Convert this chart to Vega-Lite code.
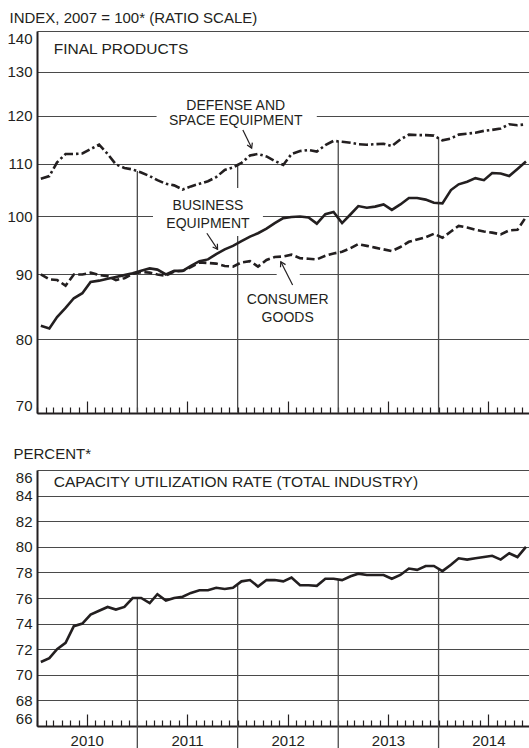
{
  "$schema": "https://vega.github.io/schema/vega-lite/v6.json",
  "padding": {"left": 0, "top": 10, "right": 0, "bottom": 0},
  "spacing": 32,
  "background": "white",
  "datasets": {
    "monthly": [
      {"date": "2010-01-15", "business": 82.0, "consumer": 90.0, "defense": 107.1, "util": 71.0},
      {"date": "2010-02-15", "business": 81.6, "consumer": 89.2, "defense": 107.6, "util": 71.3},
      {"date": "2010-03-15", "business": 83.3, "consumer": 89.1, "defense": 110.3, "util": 72.0},
      {"date": "2010-04-15", "business": 84.7, "consumer": 88.2, "defense": 112.0, "util": 72.5},
      {"date": "2010-05-15", "business": 86.2, "consumer": 90.0, "defense": 112.0, "util": 73.8},
      {"date": "2010-06-15", "business": 87.0, "consumer": 90.0, "defense": 112.1, "util": 74.0},
      {"date": "2010-07-15", "business": 88.8, "consumer": 90.3, "defense": 113.0, "util": 74.7},
      {"date": "2010-08-15", "business": 89.0, "consumer": 89.9, "defense": 113.9, "util": 75.0},
      {"date": "2010-09-15", "business": 89.3, "consumer": 89.7, "defense": 112.0, "util": 75.3},
      {"date": "2010-10-15", "business": 89.6, "consumer": 89.1, "defense": 109.9, "util": 75.1},
      {"date": "2010-11-15", "business": 89.9, "consumer": 89.4, "defense": 109.2, "util": 75.3},
      {"date": "2010-12-15", "business": 90.2, "consumer": 90.1, "defense": 108.9, "util": 76.0},
      {"date": "2011-01-15", "business": 90.6, "consumer": 90.4, "defense": 108.3, "util": 76.0},
      {"date": "2011-02-15", "business": 91.0, "consumer": 90.3, "defense": 107.6, "util": 75.6},
      {"date": "2011-03-15", "business": 90.8, "consumer": 90.0, "defense": 106.8, "util": 76.3},
      {"date": "2011-04-15", "business": 90.0, "consumer": 89.8, "defense": 106.1, "util": 75.8},
      {"date": "2011-05-15", "business": 90.6, "consumer": 90.5, "defense": 105.8, "util": 76.0},
      {"date": "2011-06-15", "business": 90.6, "consumer": 90.6, "defense": 105.0, "util": 76.1},
      {"date": "2011-07-15", "business": 91.4, "consumer": 91.2, "defense": 105.6, "util": 76.4},
      {"date": "2011-08-15", "business": 92.2, "consumer": 92.0, "defense": 106.1, "util": 76.6},
      {"date": "2011-09-15", "business": 92.5, "consumer": 91.9, "defense": 106.6, "util": 76.6},
      {"date": "2011-10-15", "business": 93.4, "consumer": 91.8, "defense": 107.4, "util": 76.8},
      {"date": "2011-11-15", "business": 94.2, "consumer": 91.4, "defense": 108.8, "util": 76.7},
      {"date": "2011-12-15", "business": 94.8, "consumer": 91.3, "defense": 109.3, "util": 76.8},
      {"date": "2012-01-15", "business": 95.6, "consumer": 92.0, "defense": 110.2, "util": 77.3},
      {"date": "2012-02-15", "business": 96.4, "consumer": 92.2, "defense": 111.7, "util": 77.4},
      {"date": "2012-03-15", "business": 97.0, "consumer": 91.3, "defense": 112.0, "util": 76.9},
      {"date": "2012-04-15", "business": 97.8, "consumer": 92.4, "defense": 111.5, "util": 77.4},
      {"date": "2012-05-15", "business": 98.8, "consumer": 92.9, "defense": 110.6, "util": 77.4},
      {"date": "2012-06-15", "business": 99.7, "consumer": 93.0, "defense": 109.8, "util": 77.3},
      {"date": "2012-07-15", "business": 99.9, "consumer": 93.3, "defense": 112.0, "util": 77.6},
      {"date": "2012-08-15", "business": 100.0, "consumer": 92.7, "defense": 112.6, "util": 77.0},
      {"date": "2012-09-15", "business": 99.8, "consumer": 92.6, "defense": 112.8, "util": 77.0},
      {"date": "2012-10-15", "business": 98.7, "consumer": 92.5, "defense": 112.5, "util": 76.95},
      {"date": "2012-11-15", "business": 100.4, "consumer": 93.1, "defense": 113.8, "util": 77.5},
      {"date": "2012-12-15", "business": 100.8, "consumer": 93.5, "defense": 114.7, "util": 77.5},
      {"date": "2013-01-15", "business": 98.8, "consumer": 93.8, "defense": 114.5, "util": 77.4},
      {"date": "2013-02-15", "business": 100.4, "consumer": 94.4, "defense": 114.3, "util": 77.7},
      {"date": "2013-03-15", "business": 101.9, "consumer": 95.1, "defense": 114.0, "util": 77.9},
      {"date": "2013-04-15", "business": 101.6, "consumer": 94.8, "defense": 113.9, "util": 77.8},
      {"date": "2013-05-15", "business": 101.8, "consumer": 94.5, "defense": 114.0, "util": 77.8},
      {"date": "2013-06-15", "business": 102.2, "consumer": 94.2, "defense": 114.1, "util": 77.8},
      {"date": "2013-07-15", "business": 101.2, "consumer": 93.9, "defense": 113.6, "util": 77.5},
      {"date": "2013-08-15", "business": 102.2, "consumer": 94.6, "defense": 115.0, "util": 77.8},
      {"date": "2013-09-15", "business": 103.4, "consumer": 95.5, "defense": 116.0, "util": 78.3},
      {"date": "2013-10-15", "business": 103.4, "consumer": 95.9, "defense": 115.9, "util": 78.2},
      {"date": "2013-11-15", "business": 103.1, "consumer": 96.3, "defense": 115.9, "util": 78.5},
      {"date": "2013-12-15", "business": 102.5, "consumer": 96.9, "defense": 115.8, "util": 78.5},
      {"date": "2014-01-15", "business": 102.4, "consumer": 96.2, "defense": 114.8, "util": 78.1},
      {"date": "2014-02-15", "business": 104.9, "consumer": 97.3, "defense": 115.2, "util": 78.6},
      {"date": "2014-03-15", "business": 106.0, "consumer": 98.3, "defense": 116.0, "util": 79.1},
      {"date": "2014-04-15", "business": 106.5, "consumer": 98.0, "defense": 116.2, "util": 79.0},
      {"date": "2014-05-15", "business": 107.2, "consumer": 97.6, "defense": 116.4, "util": 79.1},
      {"date": "2014-06-15", "business": 106.8, "consumer": 97.3, "defense": 116.8, "util": 79.2},
      {"date": "2014-07-15", "business": 108.2, "consumer": 97.1, "defense": 117.0, "util": 79.3},
      {"date": "2014-08-15", "business": 108.1, "consumer": 96.8, "defense": 117.3, "util": 79.0},
      {"date": "2014-09-15", "business": 107.6, "consumer": 97.5, "defense": 118.2, "util": 79.5},
      {"date": "2014-10-15", "business": 109.0, "consumer": 97.6, "defense": 118.0, "util": 79.2},
      {"date": "2014-11-15", "business": 110.5, "consumer": 99.9, "defense": 118.2, "util": 80.0}
    ],
    "years": [
      {"date": "2011-01-01", "top": 108.6, "utop": 76.0},
      {"date": "2012-01-01", "top": 109.8, "utop": 77.05},
      {"date": "2013-01-01", "top": 114.6, "utop": 77.4},
      {"date": "2014-01-01", "top": 115.3, "utop": 78.3}
    ],
    "one": [{}]
  },
  "vconcat": [
    {
      "width": 492,
      "height": 382,
      "layer": [
        {
          "data": {"name": "years"},
          "mark": {"type": "rule", "stroke": "#4a4a4a", "strokeWidth": 1.3},
          "encoding": {
            "x": {
              "field": "date", "type": "temporal",
              "scale": {"type": "utc", "nice": false, "domain": [{"year": 2010, "month": 1, "date": 1, "utc": true}, {"year": 2014, "month": 11, "date": 26, "utc": true}]},
              "axis": {
                "title": null, "grid": false, "labels": false,
                "domainColor": "#231f20", "domainWidth": 2,
                "tickCount": {"interval": "month", "step": 1},
                "tickColor": "#231f20", "tickWidth": 1.2,
                "tickSize": {"condition": {"test": "utcmonth(datum.value) == 6", "value": -12}, "value": -6}
              }
            },
            "y": {
              "field": "top", "type": "quantitative",
              "scale": {"type": "log", "domain": [70, 140], "nice": false},
              "axis": {
                "title": "INDEX, 2007 = 100* (RATIO SCALE)",
                "titleAngle": 0, "titleAlign": "left", "titleBaseline": "alphabetic",
                "titleX": -28, "titleY": -9, "titleFontSize": 15, "titleFontWeight": "normal", "titleColor": "#231f20",
                "values": [70, 80, 90, 100, 110, 120, 130, 140],
                "tickCount": 20,
                "labelExpr": "format(datum.value, 'd')",
                "labelFontSize": 15, "labelColor": "#231f20", "labelPadding": 5, "labelOverlap": false, "labelFlush": true,
                "ticks": false, "grid": true, "gridColor": "#4a4a4a", "gridWidth": 1.2,
                "domainColor": "#231f20", "domainWidth": 2,
                "minExtent": 37, "maxExtent": 37
              }
            },
            "y2": {"datum": 70}
          }
        },
        {
          "data": {"name": "one"},
          "mark": {"type": "rect", "fill": "white"},
          "encoding": {
            "x": {"datum": {"year": 2011, "month": 3, "date": 12, "utc": true}, "type": "temporal", "scale": {"type": "utc"}},
            "x2": {"datum": {"year": 2012, "month": 10, "date": 15, "utc": true}},
            "y": {"datum": 119, "type": "quantitative"},
            "y2": {"datum": 121}
          }
        },
        {
          "data": {"name": "one"},
          "mark": {"type": "rect", "fill": "white"},
          "encoding": {
            "x": {"datum": {"year": 2011, "month": 2, "date": 27, "utc": true}, "type": "temporal", "scale": {"type": "utc"}},
            "x2": {"datum": {"year": 2012, "month": 4, "date": 2, "utc": true}},
            "y": {"datum": 96.5, "type": "quantitative"},
            "y2": {"datum": 105.3}
          }
        },
        {
          "data": {"name": "one"},
          "mark": {"type": "rect", "fill": "white"},
          "encoding": {
            "x": {"datum": {"year": 2012, "month": 5, "date": 22, "utc": true}, "type": "temporal", "scale": {"type": "utc"}},
            "x2": {"datum": {"year": 2012, "month": 8, "date": 14, "utc": true}},
            "y": {"datum": 89.2, "type": "quantitative"},
            "y2": {"datum": 90.8}
          }
        },
        {
          "data": {"name": "monthly"},
          "mark": {"type": "line", "stroke": "#231f20", "strokeWidth": 2.6, "strokeDash": [8, 3.5]},
          "encoding": {
            "x": {"field": "date", "type": "temporal", "scale": {"type": "utc"}},
            "y": {"field": "consumer", "type": "quantitative"}
          }
        },
        {
          "data": {"name": "monthly"},
          "mark": {"type": "line", "stroke": "#231f20", "strokeWidth": 2.6, "strokeDash": [9, 3, 2.5, 3]},
          "encoding": {
            "x": {"field": "date", "type": "temporal", "scale": {"type": "utc"}},
            "y": {"field": "defense", "type": "quantitative"}
          }
        },
        {
          "data": {"name": "monthly"},
          "mark": {"type": "line", "stroke": "#231f20", "strokeWidth": 2.6},
          "encoding": {
            "x": {"field": "date", "type": "temporal", "scale": {"type": "utc"}},
            "y": {"field": "business", "type": "quantitative"}
          }
        },
        {
          "data": {"name": "one"},
          "mark": {"type": "rule", "stroke": "#231f20", "strokeWidth": 1.2},
          "encoding": {
            "x": {"datum": {"year": 2012, "month": 1, "date": 20, "utc": true}, "type": "temporal", "scale": {"type": "utc"}},
            "x2": {"datum": {"year": 2012, "month": 2, "date": 21, "utc": true}},
            "y": {"datum": 117.0, "type": "quantitative"},
            "y2": {"datum": 113.2}
          }
        },
        {
          "data": {"name": "one"},
          "mark": {"type": "point", "shape": "M -0.6 1 L 0 0 L 0.6 1", "filled": false, "stroke": "#231f20", "strokeWidth": 1.2, "size": 90, "angle": 156, "opacity": 1},
          "encoding": {
            "x": {"datum": {"year": 2012, "month": 2, "date": 21, "utc": true}, "type": "temporal", "scale": {"type": "utc"}},
            "y": {"datum": 113.2, "type": "quantitative"}
          }
        },
        {
          "data": {"name": "one"},
          "mark": {"type": "rule", "stroke": "#231f20", "strokeWidth": 1.2},
          "encoding": {
            "x": {"datum": {"year": 2011, "month": 9, "date": 11, "utc": true}, "type": "temporal", "scale": {"type": "utc"}},
            "x2": {"datum": {"year": 2011, "month": 10, "date": 20, "utc": true}},
            "y": {"datum": 97.0, "type": "quantitative"},
            "y2": {"datum": 94.2}
          }
        },
        {
          "data": {"name": "one"},
          "mark": {"type": "point", "shape": "M -0.6 1 L 0 0 L 0.6 1", "filled": false, "stroke": "#231f20", "strokeWidth": 1.2, "size": 90, "angle": 147, "opacity": 1},
          "encoding": {
            "x": {"datum": {"year": 2011, "month": 10, "date": 20, "utc": true}, "type": "temporal", "scale": {"type": "utc"}},
            "y": {"datum": 94.2, "type": "quantitative"}
          }
        },
        {
          "data": {"name": "one"},
          "mark": {"type": "rule", "stroke": "#231f20", "strokeWidth": 1.2},
          "encoding": {
            "x": {"datum": {"year": 2012, "month": 7, "date": 19, "utc": true}, "type": "temporal", "scale": {"type": "utc"}},
            "x2": {"datum": {"year": 2012, "month": 6, "date": 6, "utc": true}},
            "y": {"datum": 88.3, "type": "quantitative"},
            "y2": {"datum": 92.1}
          }
        },
        {
          "data": {"name": "one"},
          "mark": {"type": "point", "shape": "M -0.6 1 L 0 0 L 0.6 1", "filled": false, "stroke": "#231f20", "strokeWidth": 1.2, "size": 90, "angle": 332, "opacity": 1},
          "encoding": {
            "x": {"datum": {"year": 2012, "month": 6, "date": 6, "utc": true}, "type": "temporal", "scale": {"type": "utc"}},
            "y": {"datum": 92.1, "type": "quantitative"}
          }
        },
        {
          "data": {"name": "one"},
          "mark": {"type": "text", "text": "FINAL PRODUCTS", "align": "left", "baseline": "alphabetic", "fontSize": 15.5, "color": "#231f20"},
          "encoding": {
            "x": {"datum": {"year": 2010, "month": 3, "date": 3, "utc": true}, "type": "temporal", "scale": {"type": "utc"}},
            "y": {"datum": 134.3, "type": "quantitative"}
          }
        },
        {
          "data": {"name": "one"},
          "mark": {"type": "text", "text": ["DEFENSE AND", "SPACE EQUIPMENT"], "align": "center", "baseline": "alphabetic", "lineHeight": 15, "fontSize": 14, "color": "#231f20"},
          "encoding": {
            "x": {"datum": {"year": 2011, "month": 12, "date": 25, "utc": true}, "type": "temporal", "scale": {"type": "utc"}},
            "y": {"datum": 121.3, "type": "quantitative"}
          }
        },
        {
          "data": {"name": "one"},
          "mark": {"type": "text", "text": ["BUSINESS", "EQUIPMENT"], "align": "center", "baseline": "alphabetic", "lineHeight": 18, "fontSize": 14, "color": "#231f20"},
          "encoding": {
            "x": {"datum": {"year": 2011, "month": 9, "date": 15, "utc": true}, "type": "temporal", "scale": {"type": "utc"}},
            "y": {"datum": 101.2, "type": "quantitative"}
          }
        },
        {
          "data": {"name": "one"},
          "mark": {"type": "text", "text": ["CONSUMER", "GOODS"], "align": "center", "baseline": "alphabetic", "lineHeight": 18, "fontSize": 14, "color": "#231f20"},
          "encoding": {
            "x": {"datum": {"year": 2012, "month": 7, "date": 1, "utc": true}, "type": "temporal", "scale": {"type": "utc"}},
            "y": {"datum": 85.3, "type": "quantitative"}
          }
        }
      ]
    },
    {
      "width": 492,
      "height": 256,
      "layer": [
        {
          "data": {"name": "years"},
          "mark": {"type": "rule", "stroke": "#4a4a4a", "strokeWidth": 1.3},
          "encoding": {
            "x": {
              "field": "date", "type": "temporal",
              "scale": {"type": "utc", "nice": false, "domain": [{"year": 2010, "month": 1, "date": 1, "utc": true}, {"year": 2014, "month": 11, "date": 26, "utc": true}]},
              "axis": {
                "title": null, "grid": false,
                "domainColor": "#231f20", "domainWidth": 2,
                "tickCount": {"interval": "month", "step": 1},
                "tickColor": "#231f20", "tickWidth": 1.2,
                "tickSize": {"condition": {"test": "utcmonth(datum.value) == 6", "value": -12}, "value": -6},
                "labelExpr": "utcmonth(datum.value) == 6 ? utcFormat(datum.value, '%Y') : ''",
                "labelOverlap": false, "labelFlush": false, "labelFontSize": 15, "labelColor": "#231f20", "labelPadding": 19
              }
            },
            "y": {
              "field": "utop", "type": "quantitative",
              "scale": {"domain": [66, 86], "nice": false, "zero": false},
              "axis": {
                "title": "PERCENT*",
                "titleAngle": 0, "titleAlign": "left", "titleBaseline": "alphabetic",
                "titleX": -24, "titleY": -12, "titleFontSize": 15, "titleFontWeight": "normal", "titleColor": "#231f20",
                "values": [66, 68, 70, 72, 74, 76, 78, 80, 82, 84, 86],
                "tickCount": 30,
                "labelExpr": "format(datum.value, 'd')",
                "labelFontSize": 15, "labelColor": "#231f20", "labelPadding": 5, "labelOverlap": false, "labelFlush": true,
                "ticks": false, "grid": true, "gridColor": "#4a4a4a", "gridWidth": 1.2,
                "domainColor": "#231f20", "domainWidth": 2,
                "minExtent": 37, "maxExtent": 37
              }
            },
            "y2": {"datum": 64}
          }
        },
        {
          "data": {"name": "monthly"},
          "mark": {"type": "line", "stroke": "#231f20", "strokeWidth": 2.6},
          "encoding": {
            "x": {"field": "date", "type": "temporal", "scale": {"type": "utc"}},
            "y": {"field": "util", "type": "quantitative"}
          }
        },
        {
          "data": {"name": "one"},
          "mark": {"type": "text", "text": "CAPACITY UTILIZATION RATE (TOTAL INDUSTRY)", "align": "left", "baseline": "alphabetic", "fontSize": 15.5, "color": "#231f20"},
          "encoding": {
            "x": {"datum": {"year": 2010, "month": 3, "date": 3, "utc": true}, "type": "temporal", "scale": {"type": "utc"}},
            "y": {"datum": 84.65, "type": "quantitative"}
          }
        }
      ]
    }
  ],
  "config": {
    "view": {"stroke": null},
    "font": "Liberation Sans",
    "axis": {"labelFont": "Liberation Sans", "titleFont": "Liberation Sans"},
    "text": {"font": "Liberation Sans"}
  }
}
